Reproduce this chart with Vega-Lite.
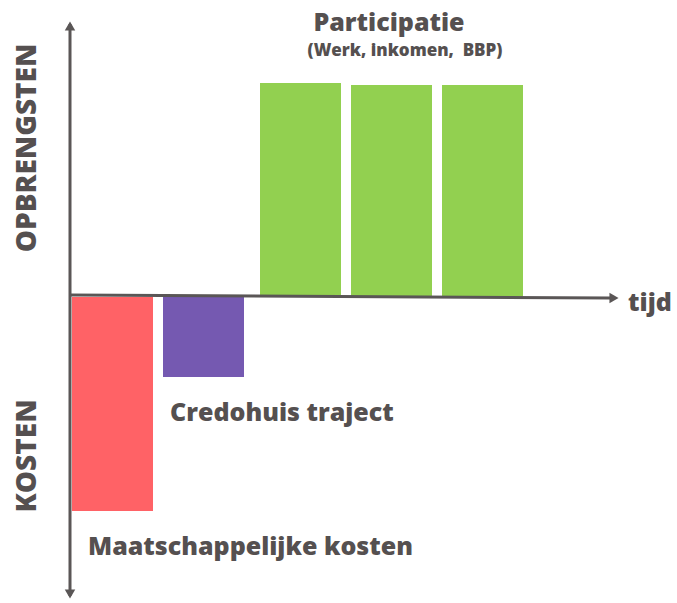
{
  "$schema": "https://vega.github.io/schema/vega-lite/v6.json",
  "width": 677,
  "height": 603,
  "padding": 0,
  "autosize": {"type": "none"},
  "background": "white",
  "config": {"view": {"stroke": null}},
  "resolve": {"scale": {"x": "shared", "y": "shared"}},
  "layer": [
    {
      "data": {"values": [
        {"fase": "Maatschappelijke kosten", "t0": 72, "t1": 153, "waarde": -215},
        {"fase": "Credohuis traject", "t0": 163, "t1": 244, "waarde": -81},
        {"fase": "Participatie 1", "t0": 260, "t1": 341, "waarde": 213},
        {"fase": "Participatie 2", "t0": 351, "t1": 432, "waarde": 211},
        {"fase": "Participatie 3", "t0": 442, "t1": 523, "waarde": 211}
      ]},
      "mark": {"type": "bar"},
      "encoding": {
        "x": {"field": "t0", "type": "quantitative", "scale": {"domain": [0, 677], "nice": false, "zero": false}, "axis": null},
        "x2": {"field": "t1"},
        "y": {"field": "waarde", "type": "quantitative", "scale": {"domain": [-307, 296], "nice": false, "zero": false}, "axis": null},
        "y2": {"datum": -1},
        "color": {
          "field": "fase", "type": "nominal", "legend": null,
          "scale": {
            "domain": ["Maatschappelijke kosten", "Credohuis traject", "Participatie 1", "Participatie 2", "Participatie 3"],
            "range": ["#ff6266", "#7559b1", "#92d050", "#92d050", "#92d050"]
          }
        }
      }
    },
    {
      "data": {"values": [{"t": 70, "v": 272}, {"t": 70, "v": -300}]},
      "mark": {"type": "line", "color": "#5a5656", "strokeWidth": 3},
      "encoding": {
        "x": {"field": "t", "type": "quantitative"},
        "y": {"field": "v", "type": "quantitative"}
      }
    },
    {
      "data": {"values": [{"t": 70, "v": 1}, {"t": 610, "v": -2}]},
      "mark": {"type": "line", "color": "#5a5656", "strokeWidth": 3},
      "encoding": {
        "x": {"field": "t", "type": "quantitative"},
        "y": {"field": "v", "type": "quantitative"}
      }
    },
    {
      "data": {"values": [
        {"t": 70, "v": 270, "vorm": "triangle-up"},
        {"t": 70, "v": -298, "vorm": "triangle-down"},
        {"t": 614, "v": -2, "vorm": "triangle-right"}
      ]},
      "mark": {"type": "point", "filled": true, "color": "#5a5656", "opacity": 1, "size": 110},
      "encoding": {
        "x": {"field": "t", "type": "quantitative"},
        "y": {"field": "v", "type": "quantitative"},
        "shape": {"field": "vorm", "type": "nominal", "scale": null, "legend": null}
      }
    },
    {
      "data": {"values": [
        {"t": 389, "v": 273, "label": "Participatie", "size": 25},
        {"t": 405, "v": 245, "label": "(Werk, inkomen,\u00a0 BBP)", "size": 17}
      ]},
      "mark": {"type": "text", "font": "Open Sans", "fontWeight": 800, "color": "#555050", "baseline": "middle", "align": "center"},
      "encoding": {
        "x": {"field": "t", "type": "quantitative"},
        "y": {"field": "v", "type": "quantitative"},
        "text": {"field": "label"},
        "size": {"field": "size", "type": "quantitative", "scale": null, "legend": null}
      }
    },
    {
      "data": {"values": [
        {"t": 628, "v": -7, "label": "tijd"},
        {"t": 170, "v": -117, "label": "Credohuis traject"},
        {"t": 88, "v": -251, "label": "Maatschappelijke kosten"}
      ]},
      "mark": {"type": "text", "font": "Open Sans", "fontWeight": 800, "color": "#555050", "baseline": "middle", "align": "left", "fontSize": 25},
      "encoding": {
        "x": {"field": "t", "type": "quantitative"},
        "y": {"field": "v", "type": "quantitative"},
        "text": {"field": "label"}
      }
    },
    {
      "data": {"values": [
        {"t": 28, "v": 148, "label": "OPBRENGSTEN"},
        {"t": 28, "v": -160, "label": "KOSTEN"}
      ]},
      "mark": {"type": "text", "font": "Open Sans", "fontWeight": 800, "color": "#555050", "baseline": "middle", "align": "center", "angle": 270, "fontSize": 28},
      "encoding": {
        "x": {"field": "t", "type": "quantitative"},
        "y": {"field": "v", "type": "quantitative"},
        "text": {"field": "label"}
      }
    }
  ]
}
